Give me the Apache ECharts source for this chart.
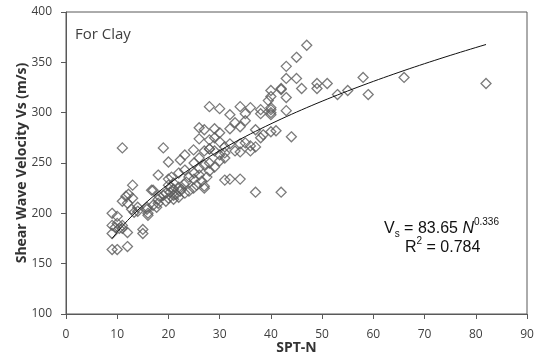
<!DOCTYPE html>
<html>
<head>
<meta charset="utf-8">
<script src="https://cdn.jsdelivr.net/npm/echarts@6/dist/echarts.min.js"></script>
<style>
  html, body { margin: 0; padding: 0; background: #fff; }
  #chart { width: 535px; height: 356px; }
</style>
</head>
<body>
<div id="chart"></div>
<script>
// SPT-N blow counts and measured shear wave velocities (m/s) for clay samples
const sptN = [
  9, 10, 9, 9, 9.6, 10.4, 11, 12, 9, 10, 12, 11, 11.7, 12.2, 13, 12.8, 13.3, 15, 15, 15.8,
  16, 17, 17.7, 18, 18.2, 11, 19, 20, 18, 16.7, 15.8, 20, 20.3, 21, 21, 22.3, 23.2, 24.9, 25, 27,
  27, 31, 32, 34, 37, 42, 20.6, 22, 23.2, 25, 24.9, 23.2, 22.3, 19, 19.5, 20, 21, 22, 22, 23,
  24, 24, 25, 26, 26, 27, 28, 28, 29, 30, 30, 31, 29, 28, 27, 26, 21, 20, 18, 17,
  16, 14, 14, 13, 12, 10, 11, 28, 30, 32, 34, 36, 38, 35, 26, 27, 29, 32, 34, 26,
  28, 29, 32, 34, 36, 37, 38.5, 40, 39.5, 28, 30, 31, 33, 34, 36, 35, 38, 40, 40, 40,
  42, 40, 43, 37, 38, 40, 41, 44, 47, 45, 43, 45, 42, 43, 46, 49, 49, 51, 53, 55,
  58, 59, 66, 82, 43, 40, 30, 33, 31, 35, 21.5, 22.5, 23.5, 25.5, 26.5, 27.5, 20.5, 19.5
];
const vs = [
  200, 197, 188, 180, 186, 185, 188, 181, 164, 164, 167, 212, 217, 219, 228, 204, 201, 184, 180, 204,
  198, 223, 206, 214, 217, 265, 265, 251, 238, 223, 206, 234, 221, 224, 214, 222, 220, 225, 234, 225,
  227, 233, 234, 234, 221, 221, 236, 240, 243, 250, 263, 258, 253, 218, 212, 215, 218, 216, 226, 229,
  222, 236, 240, 245, 238, 248, 250, 242, 246, 252, 258, 255, 262, 264, 262, 255, 230, 228, 210, 208,
  200, 202, 206, 215, 210, 190, 185, 306, 304, 298, 306, 305, 303, 299, 285, 283, 284, 284, 286, 274,
  273, 275, 269, 269, 267, 266, 278, 322, 312, 264, 271, 266, 262, 261, 262, 292, 299, 300, 303, 305,
  324, 316, 334, 283, 275, 281, 282, 276, 367, 355, 346, 334, 323, 315, 324, 329, 324, 329, 318, 322,
  335, 318, 335, 329, 302, 298, 280, 290, 260, 270, 219, 224, 231, 228, 232, 236, 226, 220
];

// Power-law fit shown on the chart: Vs = a * N^b
const fitA = 83.65;
const fitB = 0.336;
const fitRange = [9, 82];

const xTicks = { min: 0, max: 90, interval: 10 };
const yTicks = { min: 100, max: 400, interval: 50 };

const points = sptN.map((n, i) => [n, vs[i]]);
const fitLine = [];
for (let n = fitRange[0]; n <= fitRange[1]; n += 1) {
  fitLine.push([n, fitA * Math.pow(n, fitB)]);
}

const axisColor = '#595959';
const labelStyle = { color: '#404040', fontSize: 12, fontFamily: 'Open Sans' };
const eqFont = 'Liberation Sans';

const chart = echarts.init(document.getElementById('chart'), null, { renderer: 'canvas' });
chart.setOption({
  animation: false,
  backgroundColor: '#ffffff',
  grid: {
    left: 66, right: 8, top: 12, bottom: 42,
    containLabel: false,
    outerBoundsMode: 'none',
    show: true, borderColor: axisColor, borderWidth: 1, backgroundColor: 'transparent'
  },
  xAxis: {
    type: 'value',
    min: xTicks.min, max: xTicks.max, interval: xTicks.interval,
    name: 'SPT-N',
    nameLocation: 'middle',
    nameGap: 27,
    nameMoveOverlap: false,
    nameTextStyle: { fontWeight: 'bold', fontSize: 14, color: '#333', fontFamily: 'Open Sans' },
    axisLine: { show: true, lineStyle: { color: axisColor, width: 1 } },
    axisTick: { show: true, inside: false, length: 5, lineStyle: { color: axisColor } },
    axisLabel: Object.assign({ margin: 15 }, labelStyle),
    splitLine: { show: false }
  },
  yAxis: {
    type: 'value',
    min: yTicks.min, max: yTicks.max, interval: yTicks.interval,
    name: 'Shear Wave Velocity Vs (m/s)',
    nameLocation: 'middle',
    nameGap: 37,
    nameMoveOverlap: false,
    nameTextStyle: { fontWeight: 'bold', fontSize: 14, color: '#333', fontFamily: 'Open Sans' },
    axisLine: { show: true, lineStyle: { color: axisColor, width: 1 } },
    axisTick: { show: true, inside: false, length: 5, lineStyle: { color: axisColor } },
    axisLabel: Object.assign({ margin: 14 }, labelStyle),
    splitLine: { show: false }
  },
  series: [
    {
      type: 'scatter',
      data: points,
      symbol: 'diamond',
      symbolSize: 10,
      itemStyle: { color: 'rgba(255,255,255,0)', borderColor: '#5a5a5a', borderWidth: 1.3 },
      z: 2
    },
    {
      type: 'line',
      data: fitLine,
      showSymbol: false,
      smooth: false,
      lineStyle: { color: '#111', width: 1 },
      z: 3
    }
  ],
  graphic: [
    {
      type: 'text',
      left: 75, top: 27,
      style: { text: 'For Clay', fontSize: 15, fill: '#404040', fontFamily: 'Open Sans' }
    },
    {
      type: 'text',
      left: 384, top: 217,
      style: {
        text: '{v|V}{sub|s}{v| = 83.65 }{it|N}{sup|0.336}',
        rich: {
          v: { fontSize: 16, fill: '#111', fontFamily: eqFont, lineHeight: 20, verticalAlign: 'bottom' },
          it: { fontSize: 16, fill: '#111', fontFamily: eqFont, fontStyle: 'italic', lineHeight: 20, verticalAlign: 'bottom' },
          sub: { fontSize: 10, fill: '#111', fontFamily: eqFont, lineHeight: 20, verticalAlign: 'bottom', padding: [0, 0, -2, 0] },
          sup: { fontSize: 10, fill: '#111', fontFamily: eqFont, lineHeight: 20, verticalAlign: 'top' }
        }
      }
    },
    {
      type: 'text',
      left: 405, top: 236,
      style: {
        text: '{v|R}{sup|2}{v| = 0.784}',
        rich: {
          v: { fontSize: 16, fill: '#111', fontFamily: eqFont, lineHeight: 20, verticalAlign: 'bottom' },
          sup: { fontSize: 10, fill: '#111', fontFamily: eqFont, lineHeight: 20, verticalAlign: 'top' }
        }
      }
    }
  ]
});
</script>
</body>
</html>
